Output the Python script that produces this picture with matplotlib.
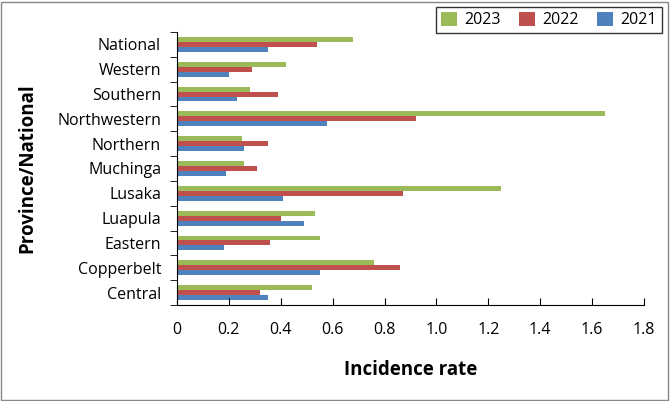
import numpy as np
import matplotlib.pyplot as plt
from matplotlib.patches import Rectangle

plt.rcParams['font.family'] = ['Open Sans', 'DejaVu Sans']

regions = ['Central', 'Copperbelt', 'Eastern', 'Luapula', 'Lusaka', 'Muchinga',
           'Northern', 'Northwestern', 'Southern', 'Western', 'National']
rate_2023 = [0.52, 0.76, 0.55, 0.53, 1.25, 0.26, 0.25, 1.65, 0.28, 0.42, 0.68]
rate_2022 = [0.32, 0.86, 0.36, 0.40, 0.87, 0.31, 0.35, 0.92, 0.39, 0.29, 0.54]
rate_2021 = [0.35, 0.55, 0.18, 0.49, 0.41, 0.19, 0.26, 0.58, 0.23, 0.20, 0.35]
xticks = [0, 0.2, 0.4, 0.6, 0.8, 1.0, 1.2, 1.4, 1.6, 1.8]
xtick_labels = ['0', '0.2', '0.4', '0.6', '0.8', '1.0', '1.2', '1.4', '1.6', '1.8']

fig = plt.figure(figsize=(6.7, 4.01), dpi=100)
ax = fig.add_axes([177/670, 1 - 305/401, 467/670, 273/401])

y = np.arange(len(regions))
h = 0.2
ax.barh(y + h, rate_2023, height=h, color='#9BBB59', label='2023')
ax.barh(y, rate_2022, height=h, color='#C0504D', label='2022')
ax.barh(y - h, rate_2021, height=h, color='#4F81BD', label='2021')

ax.set_xlim(0, 1.8)
ax.set_ylim(-0.5, len(regions) - 0.5)
ax.set_xticks(xticks)
ax.set_xticklabels(xtick_labels, fontsize=11.5)
ax.set_yticks(y)
ax.set_yticklabels(regions, fontsize=11.5)
ax.tick_params(axis='y', length=0, pad=11.5)
ax.set_yticks(np.arange(-0.5, len(regions), 1), minor=True)
ax.tick_params(axis='y', which='minor', length=5, direction='out')
ax.tick_params(axis='x', length=5, direction='in', pad=12.5)

for s in ['top', 'right']:
    ax.spines[s].set_visible(False)

ax.set_xlabel('Incidence rate', fontsize=13.5, fontweight='bold')
ax.xaxis.set_label_coords(0.5, -0.2)
ax.set_ylabel('Province/National', fontsize=13.5, fontweight='bold')
ax.yaxis.set_label_coords(-0.298, 0.5)

fig.legend(loc='upper right', bbox_to_anchor=(662/670, 1 - 7/401), ncol=3,
           fontsize=11.5, frameon=True, fancybox=False, edgecolor='black',
           handlelength=1.0, handleheight=1.0, handletextpad=0.5,
           columnspacing=1.1, borderpad=0.3, borderaxespad=0)

fig.patches.append(Rectangle((0.002, 0.003), 0.995, 0.993, transform=fig.transFigure,
                             fill=False, edgecolor='#888888', linewidth=1))

fig.savefig('out.png', dpi=100)
